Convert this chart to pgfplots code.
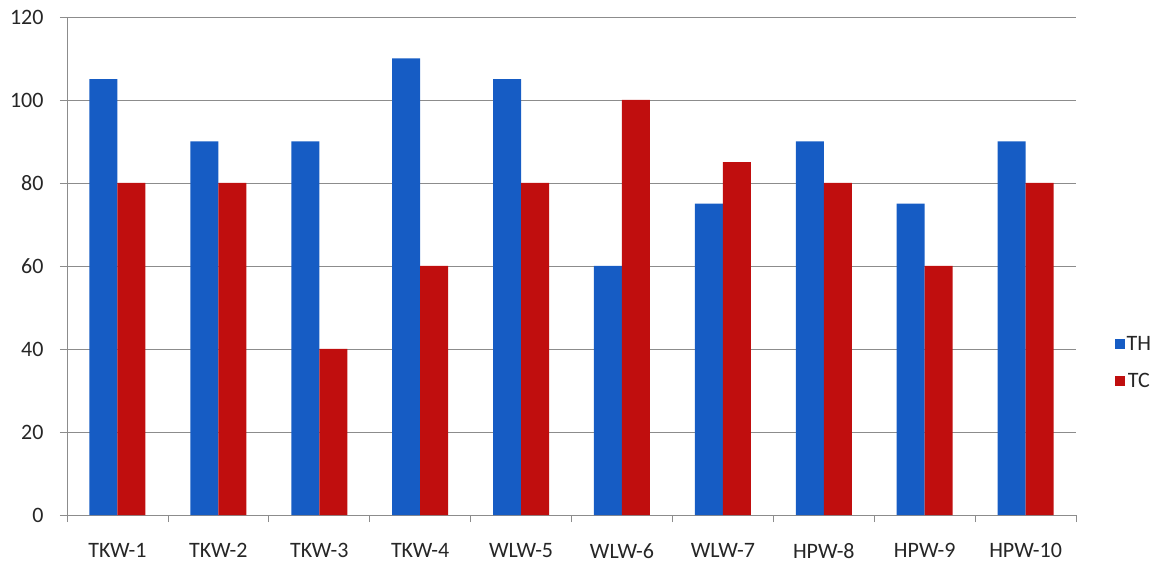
\documentclass[border=0pt]{standalone}
\usepackage{pgfplots}
\pgfplotsset{compat=1.18}
\usepackage{fontspec}
\setmainfont{Carlito}
\definecolor{thblue}{RGB}{22,92,196}
\definecolor{tcred}{RGB}{192,14,14}
\definecolor{gridgray}{RGB}{140,140,140}

\begin{document}
\begin{tikzpicture}
  \begin{axis}[
      at={(0,0)}, anchor=south west,
      scale only axis,
      width=1009pt, height=498pt,
      ybar=0pt,
      bar width=28pt,
      xmin=-0.5, xmax=9.5,
      ymin=0, ymax=120,
      ytick={0,20,...,120},
      xtick={0,...,9},
      xticklabels={TKW-1,TKW-2,TKW-3,TKW-4,WLW-5,WLW-6,WLW-7,HPW-8,HPW-9,HPW-10},
      minor xtick={-0.5,0.5,...,9.5},
      major x tick style={draw=none},
      minor x tick style={gridgray, line width=0.8pt},
      y tick style={gridgray, line width=0.8pt},
      tick align=outside,
      major tick length=7pt,
      minor tick length=7pt,
      axis x line*=bottom,
      axis y line*=left,
      axis line style={gridgray, line width=0.9pt, -},
      ymajorgrids,
      grid style={gridgray, line width=0.8pt},
      xticklabel style={yshift=-18pt},
      yticklabel style={xshift=-13pt},
      tick label style={font=\fontsize{22}{25}\selectfont, text=black!85},
      /pgf/number format/assume math mode=true,
      legend style={at={(1.035,0.306)}, anchor=west, draw=none, fill=none,
        font=\fontsize{22}{25}\selectfont, text=black!85, row sep=18pt},
      legend image code/.code={\draw[#1, draw=none] (0cm,-5pt) rectangle (10pt,5pt);},
    ]
    \addplot[fill=thblue, draw=none] coordinates {
      (0,105) (1,90) (2,90) (3,110) (4,105) (5,60) (6,75) (7,90) (8,75) (9,90)};
    \addplot[fill=tcred, draw=none] coordinates {
      (0,80) (1,80) (2,40) (3,60) (4,80) (5,100) (6,85) (7,80) (8,60) (9,80)};
    \legend{TH,TC}
  \end{axis}
  \useasboundingbox (-67pt,-52pt) rectangle (1099pt,515pt);
\end{tikzpicture}
\end{document}
